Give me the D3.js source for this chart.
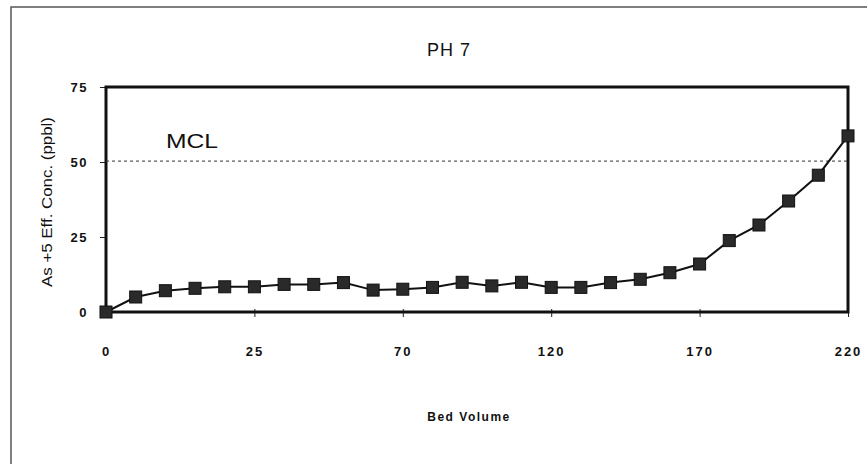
<!DOCTYPE html>
<html>
<head>
<meta charset="utf-8">
<script src="https://cdn.jsdelivr.net/npm/d3@7"></script>
<style>
  body { margin: 0; background: #fff; }
  text { font-family: Arial, "Liberation Sans", sans-serif; fill: #111; }
</style>
</head>
<body>
<div id="chart"></div>
<script>
// bed volume categories (only every 5th one is labelled on the axis)
const bedVolume = [0, 5, 10, 15, 20, 25, 34, 43, 52, 61, 70, 80, 90, 100, 110,
  120, 130, 140, 150, 160, 170, 180, 190, 200, 210, 220];
// As+5 effluent concentration (ppb)
const conc = [0, 5, 7.1, 7.9, 8.4, 8.4, 9.2, 9.2, 9.8, 7.3, 7.6, 8.2, 9.9, 8.7,
  9.9, 8.2, 8.2, 9.8, 10.9, 13.1, 16, 23.8, 29, 37, 45.6, 58.7];
const tickLabels = [0, 25, 70, 120, 170, 220];
const yTicks = [0, 25, 50, 75];
const mcl = 50.3;

const W = 867, H = 464;
const margin = { top: 87, right: 19, bottom: 152, left: 106 };

const svg = d3.select("#chart").append("svg")
  .attr("width", W)
  .attr("height", H);

// outer frame of the scanned figure
svg.append("path")
  .attr("d", `M11,${H} L11,7 L${W},7`)
  .attr("fill", "none")
  .attr("stroke", "#555")
  .attr("stroke-width", 1.5);

const x = d3.scalePoint()
  .domain(bedVolume)
  .range([margin.left, W - margin.right]);

const y = d3.scaleLinear()
  .domain([0, 75])
  .range([H - margin.bottom, margin.top]);

// title
svg.append("text")
  .attr("x", 449).attr("y", 56)
  .attr("text-anchor", "middle")
  .style("font-size", "18px")
  .style("letter-spacing", "1px")
  .text("PH 7");

// x axis: labels every 5th category, short ticks
const xAxis = d3.axisBottom(x)
  .tickValues(tickLabels)
  .tickSize(5)
  .tickPadding(30);
const gx = svg.append("g")
  .attr("transform", `translate(0, ${y(0)})`)
  .call(xAxis);
gx.select(".domain").remove();
gx.selectAll("line").attr("stroke", "#222").attr("y1", -3);
gx.selectAll("text")
  .style("font-size", "13px")
  .style("font-weight", "bold")
  .style("letter-spacing", "2px")
  .style("font-family", "Arial, 'Liberation Sans', sans-serif");

// y axis
const yAxis = d3.axisLeft(y)
  .tickValues(yTicks)
  .tickSize(6)
  .tickPadding(12);
const gy = svg.append("g")
  .attr("transform", `translate(${margin.left}, 0)`)
  .call(yAxis);
gy.select(".domain").remove();
gy.selectAll("line").attr("stroke", "#222");
gy.selectAll("text")
  .style("font-size", "13px")
  .style("font-weight", "bold")
  .style("letter-spacing", "1.5px")
  .style("font-family", "Arial, 'Liberation Sans', sans-serif");

// plot frame
svg.append("rect")
  .attr("x", x.range()[0])
  .attr("y", y(75))
  .attr("width", x.range()[1] - x.range()[0])
  .attr("height", y(0) - y(75))
  .attr("fill", "none")
  .attr("stroke", "#111")
  .attr("stroke-width", 3);

// MCL line
svg.append("line")
  .attr("x1", x.range()[0]).attr("x2", x.range()[1])
  .attr("y1", y(mcl)).attr("y2", y(mcl))
  .attr("stroke", "#333")
  .attr("stroke-width", 1)
  .attr("stroke-dasharray", "3,3");

svg.append("text")
  .attr("x", 166).attr("y", 148)
  .attr("textLength", 52)
  .attr("lengthAdjust", "spacingAndGlyphs")
  .style("font-size", "21px")
  .style("font-family", "Arial, 'Liberation Sans', sans-serif")
  .text("MCL");

// data line
const line = d3.line()
  .x((d, i) => x(bedVolume[i]))
  .y(d => y(d));

svg.append("path")
  .datum(conc)
  .attr("d", line)
  .attr("fill", "none")
  .attr("stroke", "#111")
  .attr("stroke-width", 2);

// square markers
const s = 12;
svg.append("g")
  .selectAll("rect")
  .data(conc)
  .join("rect")
  .attr("x", (d, i) => x(bedVolume[i]) - s / 2)
  .attr("y", d => y(d) - s / 2)
  .attr("width", s)
  .attr("height", s)
  .attr("fill", "#2a2a2a")
  .attr("stroke", "#111")
  .attr("stroke-width", 1);

// axis titles
svg.append("text")
  .attr("transform", "translate(52, 202) rotate(-90)")
  .attr("text-anchor", "middle")
  .attr("textLength", 170)
  .attr("lengthAdjust", "spacingAndGlyphs")
  .style("font-size", "15px")
  .text("As +5 Eff. Conc. (ppbl)");

svg.append("text")
  .attr("x", 469).attr("y", 421)
  .attr("text-anchor", "middle")
  .style("font-size", "12px")
  .style("font-weight", "bold")
  .style("letter-spacing", "1.5px")
  .text("Bed Volume");
</script>
</body>
</html>
